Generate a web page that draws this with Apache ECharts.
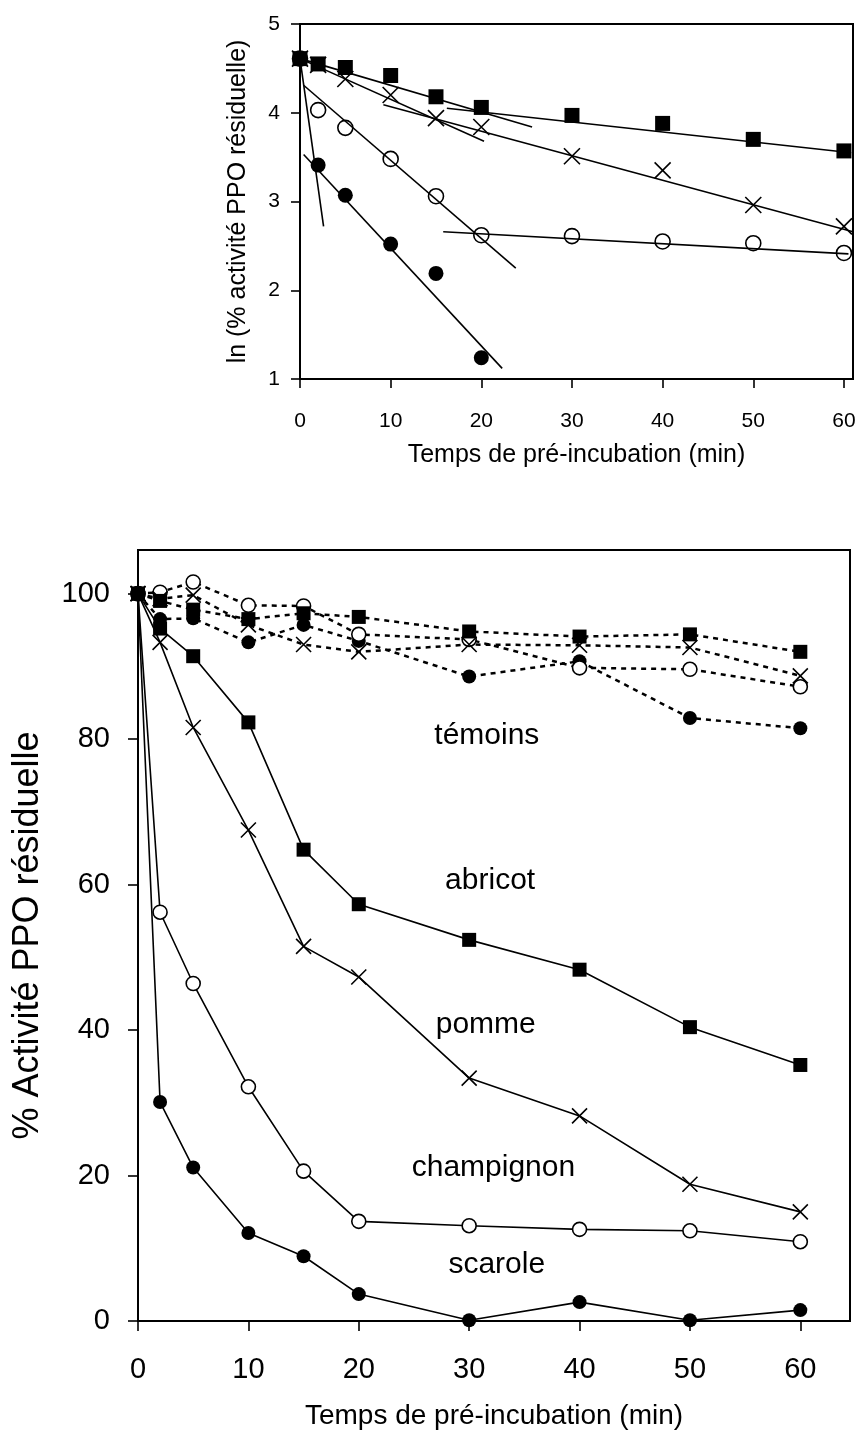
<!DOCTYPE html>
<html>
<head>
    <meta charset="utf-8"/>
    <title>Activité PPO résiduelle</title>
    <script src="https://cdn.jsdelivr.net/npm/echarts@6/dist/echarts.min.js"></script>
    <style>
        html, body { margin: 0; padding: 0; background: #ffffff; }
        #chart { width: 859px; height: 1435px; }
    </style>
</head>
<body>
<div id="chart"></div>
<script>
// temps de pré-incubation (min)
var times = [0, 2, 5, 10, 15, 20, 30, 40, 50, 60];
var timeTicks = [0, 10, 20, 30, 40, 50, 60];
var lnTicks = [1, 2, 3, 4, 5];
var pctTicks = [0, 20, 40, 60, 80, 100];

// graphe du haut : ln (% activité PPO résiduelle)
var lnAbricot = [4.61, 4.55, 4.51, 4.42, 4.18, 4.06, 3.97, 3.88, 3.70, 3.57];
var lnPomme = [4.61, 4.54, 4.38, 4.20, 3.94, 3.84, 3.51, 3.35, 2.96, 2.72];
var lnChampignon = [4.61, 4.03, 3.83, 3.48, 3.06, 2.62, 2.61, 2.55, 2.53, 2.42];
var lnScarole = [4.61, 3.41, 3.07, 2.52, 2.19, 1.24];

// droites de régression (début, fin)
var fitAbricot1 = [[0, 4.61], [25.6, 3.84]];
var fitAbricot2 = [[16.2, 4.05], [60.8, 3.55]];
var fitPomme1 = [[0, 4.61], [20.3, 3.68]];
var fitPomme2 = [[9.2, 4.09], [61, 2.66]];
var fitChampignon1 = [[0.4, 4.31], [23.8, 2.25]];
var fitChampignon2 = [[15.8, 2.66], [60.5, 2.41]];
var fitScarole1 = [[0, 4.61], [2.6, 2.72]];
var fitScarole2 = [[0.4, 3.53], [22.3, 1.12]];

// graphe du bas : % activité PPO résiduelle
var pctAbricot = [100, 95.2, 91.4, 82.3, 64.8, 57.3, 52.4, 48.3, 40.4, 35.2];
var pctPomme = [100, 93.3, 81.6, 67.5, 51.5, 47.3, 33.4, 28.2, 18.8, 15.0];
var pctChampignon = [100, 56.2, 46.4, 32.2, 20.6, 13.7, 13.1, 12.6, 12.4, 10.9];
var pctScarole = [100, 30.1, 21.1, 12.1, 8.9, 3.7, 0.1, 2.6, 0.1, 1.5];

// témoins
var temAbricot = [100, 99.0, 97.8, 96.5, 97.3, 96.8, 94.8, 94.1, 94.4, 92.0];
var temPomme = [100, 99.3, 99.8, 95.7, 93.0, 92.0, 93.0, 92.9, 92.6, 88.7];
var temChampignon = [100, 100.2, 101.6, 98.4, 98.3, 94.4, 93.7, 89.8, 89.6, 87.2];
var temScarole = [100, 96.5, 96.6, 93.3, 95.7, 93.5, 88.6, 90.7, 82.9, 81.5];

// étiquettes des courbes
var noteNames = ['témoins', 'abricot', 'pomme', 'champignon', 'scarole'];
var noteX = [31.6, 31.9, 31.5, 32.2, 32.5];
var noteY = [80.4, 60.5, 40.7, 21.1, 7.8];

var FONT = 'Liberation Sans, Arial, sans-serif';
var CROSS = 'path://M0,0L20,20M20,0L0,20';

function pairs(vals) {
    return vals.map(function (v, i) { return [times[i], v]; });
}

// styles des symboles
var marks = {
    square: { symbol: 'rect', size: 15, item: { color: '#000', borderColor: '#000', borderWidth: 0, opacity: 1 } },
    cross: { symbol: CROSS, size: 16, item: { color: '#000', borderColor: '#000', borderWidth: 1.6, opacity: 1 } },
    open: { symbol: 'circle', size: 15, item: { color: '#fff', borderColor: '#000', borderWidth: 1.6, opacity: 1 } },
    dot: { symbol: 'circle', size: 15, item: { color: '#000', borderColor: '#000', borderWidth: 0, opacity: 1 } }
};

function topPoints(vals, m) {
    return {
        type: 'scatter', xAxisIndex: 0, yAxisIndex: 0,
        symbol: marks[m].symbol, symbolSize: marks[m].size,
        itemStyle: marks[m].item, data: pairs(vals), z: 3, silent: true
    };
}

function fitLine(seg) {
    return {
        type: 'line', xAxisIndex: 0, yAxisIndex: 0, data: seg,
        showSymbol: false, lineStyle: { color: '#000', width: 1.6 }, z: 4, silent: true
    };
}

function bottomLine(vals, m, dotted) {
    return {
        type: 'line', xAxisIndex: 1, yAxisIndex: 1, data: pairs(vals),
        symbol: marks[m].symbol, symbolSize: marks[m].size - 1,
        itemStyle: marks[m].item,
        lineStyle: dotted ? { color: '#000', width: 2.5, type: [5, 5] } : { color: '#000', width: 1.6 },
        z: dotted ? 2 : 3, silent: true
    };
}

function axisX(grid, max, fs, margin, nameFs, nameGap, tickLen) {
    return {
        gridIndex: grid, type: 'value', min: 0, max: max,
        axisLine: { show: true, lineStyle: { color: '#000', width: 2 } },
        axisTick: { show: true, inside: false, length: tickLen, customValues: timeTicks, lineStyle: { color: '#000', width: 1.6 } },
        axisLabel: { customValues: timeTicks, fontSize: fs, margin: margin, color: '#000', fontFamily: FONT },
        splitLine: { show: false },
        name: 'Temps de pré-incubation (min)', nameLocation: 'middle', nameGap: nameGap,
        nameTextStyle: { fontSize: nameFs, color: '#000', fontFamily: FONT }
    };
}

function axisY(grid, min, max, ticks, fs, margin, name, nameFs, nameGap, tickLen) {
    return {
        gridIndex: grid, type: 'value', min: min, max: max,
        axisLine: { show: true, lineStyle: { color: '#000', width: 2 } },
        axisTick: { show: true, inside: false, length: tickLen, customValues: ticks, lineStyle: { color: '#000', width: 1.6 } },
        axisLabel: { customValues: ticks, fontSize: fs, margin: margin, color: '#000', fontFamily: FONT },
        splitLine: { show: false },
        name: name, nameLocation: 'middle', nameGap: nameGap, nameRotate: 90,
        nameTextStyle: { fontSize: nameFs, color: '#000', fontFamily: FONT }
    };
}

var chart = echarts.init(document.getElementById('chart'), null, { renderer: 'canvas' });

var option = {
    backgroundColor: '#fff',
    animation: false,
    grid: [
        { left: 300, top: 24, width: 553, height: 355, show: true, borderColor: '#000', borderWidth: 2, backgroundColor: 'transparent' },
        { left: 138, top: 550, width: 712, height: 774, show: true, borderColor: '#000', borderWidth: 2, backgroundColor: 'transparent' }
    ],
    xAxis: [
        axisX(0, 61, 21, 32, 25, 64, 9),
        axisX(1, 64.5, 29, 34, 28, 81, 10)
    ],
    yAxis: [
        axisY(0, 1, 5, lnTicks, 21, 20, 'ln (% activité PPO résiduelle)', 25, 49, 9),
        axisY(1, 0, 106, pctTicks, 29, 28, '% Activité PPO résiduelle', 36, 92, 10)
    ],
    series: [
        topPoints(lnScarole, 'dot'),
        topPoints(lnChampignon, 'open'),
        topPoints(lnPomme, 'cross'),
        topPoints(lnAbricot, 'square'),
        fitLine(fitAbricot1), fitLine(fitAbricot2),
        fitLine(fitPomme1), fitLine(fitPomme2),
        fitLine(fitChampignon1), fitLine(fitChampignon2),
        fitLine(fitScarole1), fitLine(fitScarole2),

        bottomLine(temScarole, 'dot', true),
        bottomLine(temChampignon, 'open', true),
        bottomLine(temPomme, 'cross', true),
        bottomLine(temAbricot, 'square', true),
        bottomLine(pctScarole, 'dot', false),
        bottomLine(pctChampignon, 'open', false),
        bottomLine(pctPomme, 'cross', false),
        bottomLine(pctAbricot, 'square', false),
        {
            type: 'scatter', xAxisIndex: 1, yAxisIndex: 1, symbolSize: 0, silent: true,
            itemStyle: { opacity: 1 },
            data: noteNames.map(function (n, i) { return { name: n, value: [noteX[i], noteY[i]] }; }),
            label: { show: true, position: 'inside', formatter: '{b}', fontSize: 30, color: '#000', fontFamily: FONT }
        }
    ]
};

chart.setOption(option);
</script>
</body>
</html>
